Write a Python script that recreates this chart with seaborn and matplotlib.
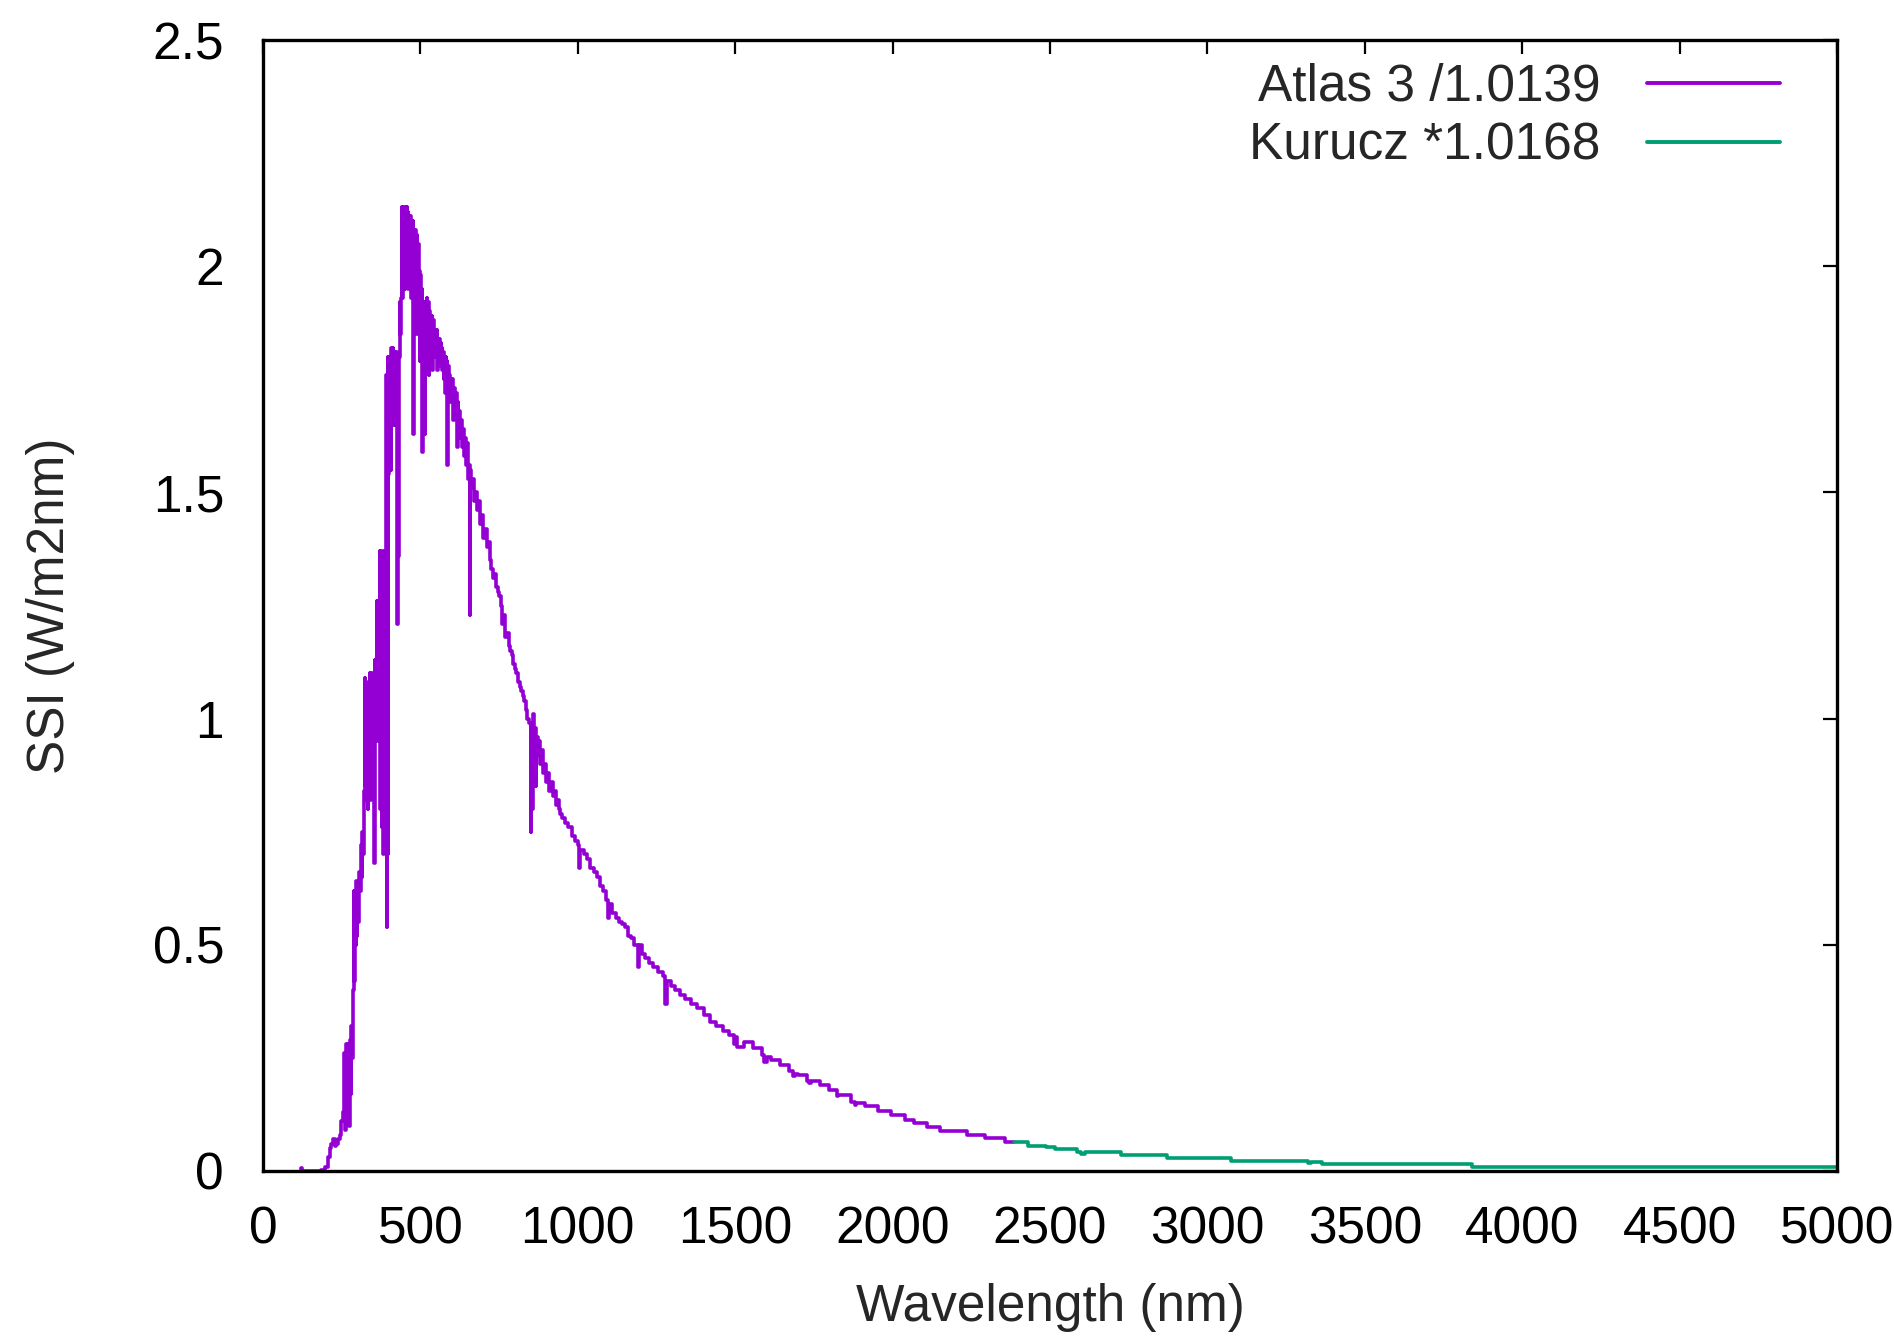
import numpy as np
import pandas as pd
import matplotlib
matplotlib.use("Agg")
import matplotlib.pyplot as plt
import seaborn as sns
from matplotlib import font_manager

# ---------------- data ----------------
atlas_wl = [120, 121, 123, 185, 196, 206, 212, 217, 222, 228, 233, 238, 244, 249, 254,
            257, 260, 263, 266, 270, 273, 276, 279, 281, 284, 286, 288, 290, 292, 294,
            296, 298, 300, 302, 305, 308, 311, 313, 316, 318, 321, 323, 325, 327, 329,
            331, 333, 335, 337, 339, 341, 343, 345, 347, 349, 351, 353, 355, 357, 359,
            361, 363, 365, 367, 369, 371, 373, 375, 377, 379, 381, 383, 385, 387, 389,
            391, 393, 394, 396, 397, 398, 400, 402, 404, 406, 408, 410, 412, 414, 416,
            418, 420, 422, 424, 426, 428, 430, 432, 434, 436, 438, 440, 442, 444, 446,
            448, 450, 452, 454, 456, 458, 460, 462, 464, 466, 468, 470, 472, 474, 476,
            478, 480, 482, 484, 486, 488, 490, 492, 494, 496, 498, 500, 502, 504, 506,
            508, 510, 512, 514, 516, 518, 520, 522, 524, 526, 528, 530, 532, 534, 536,
            538, 540, 542, 544, 546, 548, 550, 552, 554, 556, 558, 560, 562, 564, 566,
            568, 570, 572, 574, 576, 578, 580, 582, 584, 586, 588, 590, 592, 594, 596,
            598, 600, 603, 606, 609, 612, 615, 618, 621, 624, 627, 630, 633, 636, 639,
            642, 645, 648, 651, 654, 656, 658, 662, 666, 670, 675, 680, 685, 690, 695,
            700, 705, 710, 715, 720, 725, 730, 735, 740, 745, 750, 755, 760, 765, 770,
            775, 780, 785, 790, 795, 800, 805, 810, 815, 820, 825, 830, 835, 840, 845,
            850, 852, 855, 857, 860, 862, 866, 868, 872, 876, 880, 885, 890, 895, 900,
            905, 910, 915, 920, 925, 930, 935, 940, 945, 950, 960, 970, 980, 990, 1000,
            1004, 1008, 1020, 1030, 1040, 1050, 1060, 1070, 1080, 1090, 1095, 1100, 1110, 1120, 1130,
            1140, 1150, 1160, 1170, 1180, 1190, 1195, 1205, 1215, 1225, 1240, 1255, 1270, 1278, 1283,
            1295, 1310, 1325, 1340, 1360, 1380, 1400, 1420, 1440, 1460, 1480, 1495, 1500, 1505, 1528,
            1557, 1585, 1593, 1600, 1613, 1642, 1670, 1685, 1690, 1699, 1727, 1735, 1740, 1769, 1798,
            1822, 1826, 1869, 1880, 1885, 1911, 1954, 1996, 2039, 2067, 2110, 2152, 2237, 2294, 2358]
atlas_ssi = [0.001, 0.007, 0.001, 0.003, 0.008, 0.03, 0.05, 0.06, 0.07, 0.055, 0.06, 0.07, 0.08, 0.11, 0.13,
             0.26, 0.09, 0.28, 0.14, 0.28, 0.10, 0.29, 0.17, 0.32, 0.25, 0.40, 0.62, 0.42, 0.60, 0.50,
             0.64, 0.52, 0.62, 0.55, 0.66, 0.62, 0.72, 0.65, 0.75, 0.70, 0.84, 1.09, 0.85, 1.05, 0.82,
             1.03, 0.80, 1.08, 0.85, 1.10, 0.82, 1.05, 0.90, 1.10, 0.85, 1.08, 0.68, 1.13, 0.98, 1.05,
             1.26, 0.95, 1.20, 1.00, 1.26, 1.37, 0.80, 1.35, 0.76, 1.37, 0.70, 1.30, 0.72, 1.37, 1.10,
             1.76, 0.54, 1.70, 1.80, 0.70, 1.54, 1.78, 1.60, 1.80, 1.55, 1.82, 1.65, 1.82, 1.70, 1.81,
             1.65, 1.80, 1.70, 1.81, 1.21, 1.80, 1.36, 1.80, 1.92, 1.85, 1.93, 2.13, 1.93, 2.13, 1.97,
             2.12, 1.95, 2.13, 1.99, 2.13, 2.00, 2.12, 1.95, 2.11, 2.00, 2.11, 1.93, 2.10, 1.98, 2.10,
             1.63, 2.08, 1.90, 2.08, 1.85, 2.07, 1.88, 2.05, 1.85, 1.99, 1.79, 1.98, 1.85, 1.95, 1.59,
             1.92, 1.78, 1.92, 1.63, 1.90, 1.80, 1.93, 1.80, 1.92, 1.76, 1.90, 1.82, 1.87, 1.78, 1.89,
             1.77, 1.88, 1.80, 1.86, 1.80, 1.85, 1.80, 1.86, 1.77, 1.84, 1.78, 1.84, 1.80, 1.83, 1.78,
             1.82, 1.77, 1.81, 1.75, 1.80, 1.72, 1.80, 1.73, 1.79, 1.56, 1.78, 1.72, 1.76, 1.70, 1.75,
             1.71, 1.75, 1.66, 1.73, 1.68, 1.72, 1.60, 1.70, 1.62, 1.68, 1.62, 1.66, 1.60, 1.64, 1.58,
             1.62, 1.56, 1.61, 1.53, 1.56, 1.23, 1.55, 1.51, 1.53, 1.48, 1.50, 1.46, 1.48, 1.43, 1.45,
             1.40, 1.42, 1.38, 1.39, 1.35, 1.33, 1.31, 1.32, 1.29, 1.28, 1.27, 1.25, 1.21, 1.23, 1.18,
             1.19, 1.16, 1.15, 1.14, 1.12, 1.11, 1.10, 1.08, 1.07, 1.06, 1.05, 1.04, 1.02, 1.00, 0.99,
             0.75, 0.99, 0.80, 1.01, 0.90, 0.98, 0.85, 0.96, 0.92, 0.95, 0.90, 0.93, 0.88, 0.90, 0.86,
             0.88, 0.84, 0.86, 0.83, 0.84, 0.81, 0.82, 0.80, 0.79, 0.78, 0.77, 0.76, 0.74, 0.73, 0.72,
             0.67, 0.71, 0.70, 0.69, 0.67, 0.66, 0.65, 0.63, 0.62, 0.60, 0.56, 0.59, 0.57, 0.56, 0.55,
             0.545, 0.54, 0.52, 0.515, 0.50, 0.45, 0.50, 0.48, 0.47, 0.46, 0.45, 0.44, 0.43, 0.37, 0.42,
             0.41, 0.40, 0.39, 0.38, 0.37, 0.36, 0.345, 0.33, 0.32, 0.31, 0.30, 0.28, 0.296, 0.274, 0.285,
             0.272, 0.257, 0.24, 0.252, 0.246, 0.234, 0.22, 0.21, 0.215, 0.212, 0.20, 0.195, 0.198, 0.189, 0.178,
             0.165, 0.167, 0.152, 0.145, 0.150, 0.144, 0.133, 0.124, 0.113, 0.105, 0.097, 0.088, 0.080, 0.073, 0.064]
atlas_end = 2386

kurucz_wl = [2386, 2429, 2486, 2515, 2585, 2600, 2610, 2727, 2873, 3074, 3320, 3329, 3365, 3840, 5000]
kurucz_ssi = [0.064, 0.055, 0.053, 0.048, 0.043, 0.038, 0.042, 0.035, 0.028, 0.0225, 0.017, 0.020, 0.016, 0.009, 0.009]

series_labels = ["Atlas 3 /1.0139", "Kurucz *1.0168"]
series_colors = ["#9400D3", "#009E73"]

x_ticks = [0, 500, 1000, 1500, 2000, 2500, 3000, 3500, 4000, 4500, 5000]
y_ticks = [0, 0.5, 1, 1.5, 2, 2.5]
y_tick_labels = ["0", "0.5", "1", "1.5", "2", "2.5"]

# ---------------- build table ----------------
df = pd.concat([
    pd.DataFrame({"wl": atlas_wl + [atlas_end], "ssi": atlas_ssi + [atlas_ssi[-1]],
                  "src": series_labels[0]}),
    pd.DataFrame({"wl": kurucz_wl, "ssi": kurucz_ssi, "src": series_labels[1]}),
], ignore_index=True)

# ---------------- style ----------------
sns.set_style("white")
names = {f.name for f in font_manager.fontManager.ttflist}
fam = "Liberation Sans Narrow" if "Liberation Sans Narrow" in names else "Liberation Sans"
plt.rcParams["font.family"] = [fam, "DejaVu Sans"]

fig = plt.figure(figsize=(18.94, 13.39), dpi=100)
ax = fig.add_axes([263 / 1894, 1 - 1171 / 1339, (1837 - 263) / 1894, (1171 - 40) / 1339])

sns.lineplot(data=df, x="wl", y="ssi", hue="src", palette=dict(zip(series_labels, series_colors)),
             estimator=None, sort=False, drawstyle="steps-post", linewidth=2.6, ax=ax)

ax.set_xlim(0, 5000)
ax.set_ylim(0, 2.5)
ax.set_xticks(x_ticks)
ax.set_xticklabels([str(t) for t in x_ticks])
ax.set_yticks(y_ticks)
ax.set_yticklabels(y_tick_labels)

fs = 37
ax.tick_params(direction="in", length=10, width=1.6, top=True, right=True,
               labelsize=fs, colors="black")
ax.tick_params(axis="y", pad=28)
ax.tick_params(axis="x", pad=25)
for s in ax.spines.values():
    s.set_visible(True)
    s.set_linewidth(2.4)
    s.set_color("black")

ax.set_xlabel("Wavelength (nm)", fontsize=fs, labelpad=20)
ax.set_ylabel("SSI (W/m2nm)", fontsize=fs, labelpad=56)

handles, labels = ax.get_legend_handles_labels()
leg = ax.legend(handles, labels, loc="upper right", bbox_to_anchor=(0.982, 1.005),
                frameon=False, markerfirst=False, fontsize=fs, handlelength=2.6,
                handletextpad=0.9, labelspacing=0.2, borderaxespad=0.15)
for t in leg.get_texts():
    t.set_ha("right")
for h in leg.get_lines():
    h.set_linewidth(2.8)

fig.savefig("out.png", dpi=100, facecolor="white")
